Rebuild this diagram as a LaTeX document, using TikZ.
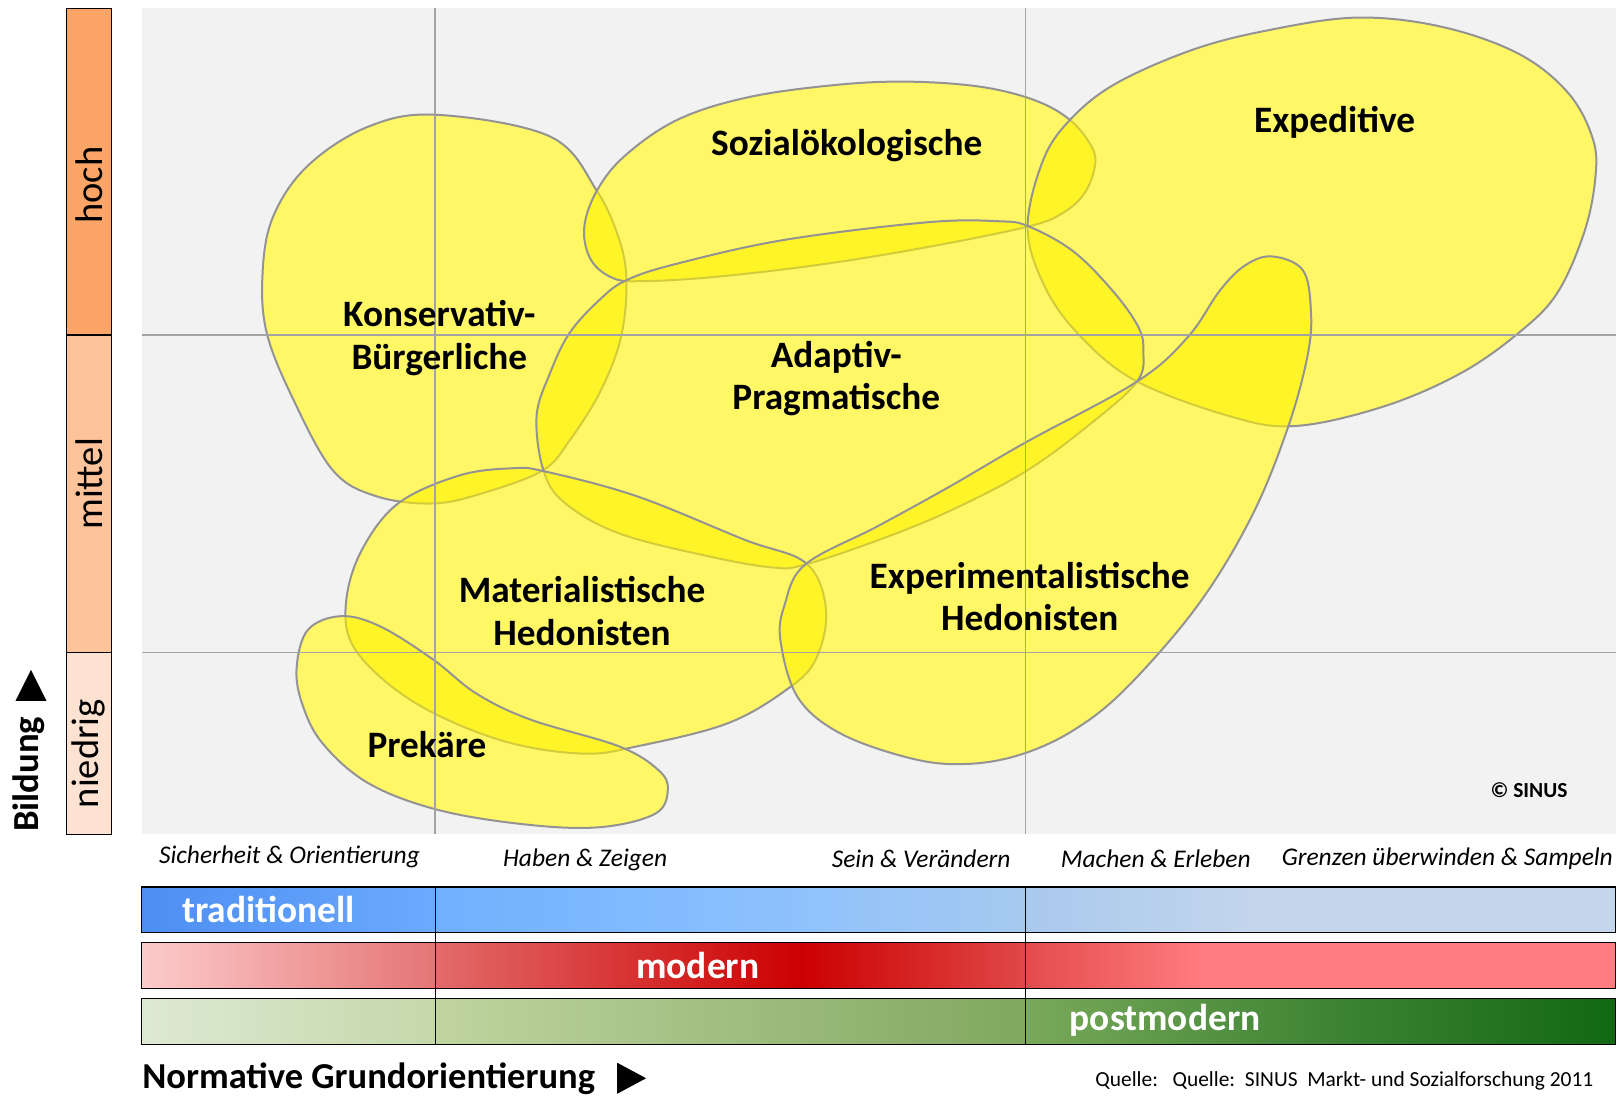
\documentclass[tikz,border=0pt]{standalone}
\usepackage{fontspec}
\setmainfont{Carlito}
\usetikzlibrary{positioning}

\definecolor{plotbg}{HTML}{F2F2F2}
\definecolor{gridgray}{HTML}{A3A3A3}
\definecolor{blobline}{HTML}{939393}
\definecolor{hochcol}{HTML}{FCA567}
\definecolor{mittelcol}{HTML}{FDC39A}
\definecolor{niedrigcol}{HTML}{FDE2D2}
% bar colours
\definecolor{tA1}{HTML}{4D8EF2}\definecolor{tA2}{HTML}{6AAAFF}
\definecolor{tB1}{HTML}{70B0FF}\definecolor{tB2}{HTML}{88BFFF}\definecolor{tB3}{HTML}{A6CAF0}
\definecolor{tC1}{HTML}{A9C9EE}\definecolor{tC2}{HTML}{C4D6EC}
\definecolor{mA1}{HTML}{FCCBCB}\definecolor{mA2}{HTML}{E57575}
\definecolor{mB1}{HTML}{E36B6B}\definecolor{mB2}{HTML}{CC0000}\definecolor{mB3}{HTML}{E04848}
\definecolor{mC1}{HTML}{E44C4C}\definecolor{mC2}{HTML}{FF7C80}
\definecolor{pA1}{HTML}{DDE9D3}\definecolor{pA2}{HTML}{C5D8AA}
\definecolor{pB1}{HTML}{C0D49F}\definecolor{pB2}{HTML}{80A860}
\definecolor{pC1}{HTML}{79A95A}\definecolor{pC2}{HTML}{3F8535}\definecolor{pC3}{HTML}{126812}

\pgfdeclarehorizontalshading{tradL}{100bp}{color(0bp)=(tA1); color(25bp)=(tA1); color(75bp)=(tA2); color(100bp)=(tA2)}
\pgfdeclarehorizontalshading{tradM}{100bp}{color(0bp)=(tB1); color(25bp)=(tB1); color(50bp)=(tB2); color(75bp)=(tB3); color(100bp)=(tB3)}
\pgfdeclarehorizontalshading{tradR}{100bp}{color(0bp)=(tC1); color(25bp)=(tC1); color(45bp)=(tC2); color(100bp)=(tC2)}
\pgfdeclarehorizontalshading{modL}{100bp}{color(0bp)=(mA1); color(25bp)=(mA1); color(75bp)=(mA2); color(100bp)=(mA2)}
\pgfdeclarehorizontalshading{modM}{100bp}{color(0bp)=(mB1); color(25bp)=(mB1); color(56bp)=(mB2); color(75bp)=(mB3); color(100bp)=(mB3)}
\pgfdeclarehorizontalshading{modR}{100bp}{color(0bp)=(mC1); color(25bp)=(mC1); color(40bp)=(mC2); color(100bp)=(mC2)}
\pgfdeclarehorizontalshading{postL}{100bp}{color(0bp)=(pA1); color(25bp)=(pA1); color(75bp)=(pA2); color(100bp)=(pA2)}
\pgfdeclarehorizontalshading{postM}{100bp}{color(0bp)=(pB1); color(25bp)=(pB1); color(75bp)=(pB2); color(100bp)=(pB2)}
\pgfdeclarehorizontalshading{postR}{100bp}{color(0bp)=(pC1); color(25bp)=(pC1); color(50bp)=(pC2); color(75bp)=(pC3); color(100bp)=(pC3)}

\begin{document}
\begin{tikzpicture}[x=0.01cm, y=-0.01cm,
	blob/.style={fill=yellow, fill opacity=0.6, draw=blobline, line width=0.55pt},
	gridline/.style={draw=gridgray, line width=0.45pt},
	milieu/.style={font=\fontsize{10.25}{11.7}\selectfont\bfseries, align=center, inner sep=0pt},
	level/.style={rotate=90, font=\fontsize{10.6}{12}\selectfont, inner sep=0pt},
	werte/.style={font=\fontsize{7}{8}\selectfont\itshape, inner sep=0pt},
	barlabel/.style={font=\fontsize{10.3}{12}\selectfont\bfseries, text=white, inner sep=0pt},
	barbox/.style={draw=black, line width=0.35pt}]
	\useasboundingbox (0,0) rectangle (1568,1060);

	% plot area
	\fill[plotbg] (137,8) rectangle (1563,807);

	% milieus (outlines saved, white underlay, then yellow)
	\path[save path=\konsblob] plot[smooth cycle, tension=0.6] coordinates {(422,111) (532,132) (577,184) (600,235) (606,277) (600,329) (580,380) (551,426) (525,455) (467,477) (419,487) (364,480) (322,455) (284,387) (258,322) (254,264) (264,210) (297,161) (355,123)};
	\path[save path=\sozialblob] plot[smooth cycle, tension=0.6] coordinates {(565,222) (576,187) (603,152) (655,116) (724,94) (810,82) (880,79) (949,84) (1001,97) (1035,116) (1056,142) (1059,161) (1049,187) (1028,206) (995,219) (897,239) (793,256) (690,268) (620,272) (593,269) (572,252)};
	\path[save path=\expeblob] plot[smooth cycle, tension=0.6] coordinates {(994,219) (1009,155) (1035,116) (1079,81) (1154,48) (1228,29) (1313,17) (1395,26) (1469,52) (1517,90) (1541,135) (1543,174) (1532,226) (1506,284) (1469,322) (1413,361) (1339,393) (1254,412) (1191,403) (1098,368) (1042,322) (1009,274)};
	\path[save path=\adaptblob] plot[smooth cycle, tension=0.6] coordinates {(606,271) (655,255) (759,232) (897,215) (966,214) (995,219) (1038,243) (1076,281) (1101,316) (1106,340) (1100,369) (1056,409) (992,456) (917,495) (848,523) (779,546) (748,549) (685,538) (599,516) (547,487) (526,456) (519,403) (532,361) (551,322) (580,290)};
	\path[save path=\matblob] plot[smooth cycle, tension=0.6] coordinates {(385,487) (444,460) (495,453) (527,456) (616,480) (720,522) (780,545) (799,590) (789,638) (761,667) (703,700) (616,722) (565,729) (495,719) (426,693) (375,661) (340,622) (335,580) (350,532)};
	\path[save path=\prekblob] plot[smooth cycle, tension=0.6] coordinates {(287,645) (298,609) (330,596) (368,606) (419,638) (461,671) (513,696) (599,722) (637,745) (646,764) (634,787) (582,800) (513,798) (426,784) (357,758) (312,719) (292,680)};
	\path[save path=\exptblob] plot[smooth cycle, tension=0.6] coordinates {(1230,248) (1260,261) (1268,299) (1265,343) (1246,413) (1211,499) (1159,585) (1090,665) (1039,706) (987,730) (935,739) (883,734) (814,710) (772,675) (755,620) (759,585) (779,546) (849,509) (918,471) (992,428) (1100,369) (1149,326) (1180,281) (1204,257)};
	\foreach \b in {\konsblob,\sozialblob,\expeblob,\adaptblob,\matblob,\prekblob,\exptblob}
		\fill[white, use path=\b];
	\foreach \b in {\konsblob,\sozialblob,\expeblob,\adaptblob,\matblob,\prekblob,\exptblob}
		\draw[blob, use path=\b];

	% grid
	\draw[gridline] (421,8) -- (421,807);
	\draw[gridline] (992,8) -- (992,807);
	\draw[gridline] (137,324) -- (1563,324);
	\draw[gridline] (137,631) -- (1563,631);

	% milieu names
	\node[milieu] (kons) at (425,327) {Konservativ-\\Bürgerliche};
	\node[milieu] (sozial) at (819,141) {Sozialökologische};
	\node[milieu] (expe) at (1291,118) {Expeditive};
	\node[milieu] (adapt) at (809,366) {Adaptiv-\\Pragmatische};
	\node[milieu] (mat) at (563,591) {Materialistische\\Hedonisten};
	\node[milieu] (expt) at (996,577) {Experimentalistische\\Hedonisten};
	\node[milieu] (prek) at (413,720) {Prekäre};
	\node[font=\fontsize{5.9}{7}\selectfont\bfseries, inner sep=0pt] (copy) at (1479,764) {© SINUS};

	% Bildung axis
	\draw[barbox, fill=hochcol] (64,8) rectangle (108,324);
	\draw[barbox, fill=mittelcol] (64,324) rectangle (108,631);
	\draw[barbox, fill=niedrigcol] (64,631) rectangle (108,807);
	\node[level] (hoch) at (86,179) {hoch};
	\node[level] (mittel) at (86,468) {mittel};
	\node[level] (niedrig) at (86,729) {niedrig};
	\node[rotate=90, font=\fontsize{10.1}{12}\selectfont\bfseries, inner sep=0pt] (bildung) at (28,749) {Bildung};
	\fill (30,648) -- (45,678) -- (15,678) -- cycle;

	% Werte axis
	\node[werte] (sich) at (280,829) {Sicherheit \& Orientierung};
	\node[werte] (haben) at (566,832) {Haben \& Zeigen};
	\node[werte] (sein) at (891,831) {Sein \& Verändern};
	\node[werte] (machen) at (1118,831) {Machen \& Erleben};
	\node[werte] (grenzen) at (1400,831) {Grenzen überwinden \& Sampeln};

	\shade[shading=tradL] (137,858) rectangle (421,902);
	\shade[shading=tradM] (421,858) rectangle (992,902);
	\shade[shading=tradR] (992,858) rectangle (1563,902);
	\shade[shading=modL] (137,912) rectangle (421,956);
	\shade[shading=modM] (421,912) rectangle (992,956);
	\shade[shading=modR] (992,912) rectangle (1563,956);
	\shade[shading=postL] (137,966) rectangle (421,1010);
	\shade[shading=postM] (421,966) rectangle (992,1010);
	\shade[shading=postR] (992,966) rectangle (1563,1010);
	\draw[barbox] (137,858) rectangle (1563,902);
	\draw[barbox] (137,912) rectangle (1563,956);
	\draw[barbox] (137,966) rectangle (1563,1010);
	\draw[barbox] (421,858) -- (421,1010);
	\draw[barbox] (992,858) -- (992,1010);
	\node[barlabel] (trad) at (260,880) {traditionell};
	\node[barlabel] (mod) at (675,934) {modern};
	\node[barlabel] (post) at (1127,987) {postmodern};

	\node[anchor=west, font=\fontsize{10.05}{12}\selectfont\bfseries, inner sep=0pt] (norm) at (137,1043) {Normative Grundorientierung};
	\fill (597,1028) -- (625,1043) -- (597,1058) -- cycle;
	\node[anchor=east, font=\fontsize{5.9}{7}\selectfont, inner sep=0pt] (quelle) at (1542,1046) {Quelle:~~~Quelle:~~SINUS~~Markt- und Sozialforschung 2011};
\end{tikzpicture}
\end{document}
